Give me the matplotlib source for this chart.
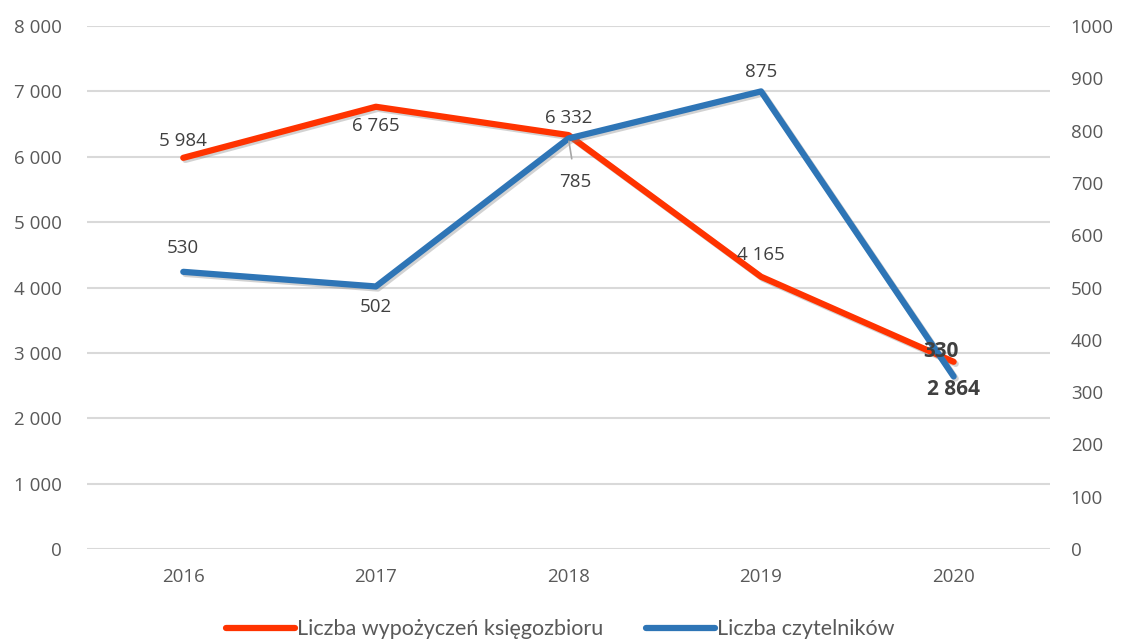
import matplotlib
matplotlib.use("Agg")
import matplotlib.pyplot as plt
import matplotlib.patheffects as pe
from matplotlib.lines import Line2D

years = ["2016", "2017", "2018", "2019", "2020"]
loans = [5984, 6765, 6332, 4165, 2864]
readers = [530, 502, 785, 875, 330]
left_ticks = [0, 1000, 2000, 3000, 4000, 5000, 6000, 7000, 8000]
right_ticks = [0, 100, 200, 300, 400, 500, 600, 700, 800, 900, 1000]

RED = "#FF3300"
BLUE = "#2E75B6"
TXT = "#595959"
LBL = "#404040"

plt.rcParams['font.family'] = ['Open Sans', 'DejaVu Sans']

fig = plt.figure(figsize=(11.21, 6.41), dpi=100)
ax = fig.add_axes([0.0776, 0.1435, 0.859, 0.8159])
ax2 = ax.twinx()

x = list(range(len(years)))
shadow = [pe.SimpleLineShadow(offset=(1.5, -1.5), shadow_color='gray', alpha=0.35), pe.Normal()]
ax.plot(x, loans, color=RED, lw=4.5, solid_capstyle='round', path_effects=shadow, zorder=3)
ax2.plot(x, readers, color=BLUE, lw=4.5, solid_capstyle='round', path_effects=shadow, zorder=3)

ax.set_xlim(-0.5, 4.5)
ax.set_ylim(0, 8000)
ax2.set_ylim(0, 1000)
ax.set_yticks(left_ticks)
ax.set_yticklabels([f"{v:,}".replace(",", " ") for v in left_ticks])
ax2.set_yticks(right_ticks)
ax2.set_yticklabels([str(v) for v in right_ticks])
ax.set_xticks(x)
ax.set_xticklabels(years)

for a in (ax, ax2):
    for s in a.spines.values():
        s.set_visible(False)
    a.tick_params(length=0, labelsize=13.5, labelcolor=TXT)
ax.tick_params(axis='y', pad=18)
ax2.tick_params(axis='y', pad=15)
ax.tick_params(axis='x', pad=14)
ax.grid(axis='y', color='#D9D9D9', lw=1.5)
ax.set_axisbelow(True)

def fmt(v):
    return f"{v:,}".replace(",", " ")

loan_off = [(0, 12), (0, -14), (0, 12), (0, 16), (0, -20)]
for i, (v, off) in enumerate(zip(loans, loan_off)):
    bold = i == len(loans) - 1
    ax.annotate(fmt(v), (i, v), xytext=off, textcoords='offset points', ha='center', va='center',
                fontsize=15 if bold else 13.5, fontweight='bold' if bold else 'normal',
                color=LBL, zorder=5)

reader_off = [(0, 17), (0, -15), (5, -31), (0, 14), (-9, 18)]
for i, (v, off) in enumerate(zip(readers, reader_off)):
    bold = i == len(readers) - 1
    kw = {}
    if i == 2:
        kw['arrowprops'] = dict(arrowstyle='-', color='#A6A6A6', lw=1.2, shrinkA=8, shrinkB=2)
    ax2.annotate(fmt(v), (i, v), xytext=off, textcoords='offset points', ha='center', va='center',
                 fontsize=15 if bold else 13.5, fontweight='bold' if bold else 'normal',
                 color=LBL, zorder=5, **kw)

handles = [Line2D([0], [0], color=RED, lw=4.5, solid_capstyle='round'),
           Line2D([0], [0], color=BLUE, lw=4.5, solid_capstyle='round')]
fig.legend(handles, ["Liczba wypożyczeń księgozbioru", "Liczba czytelników"],
           loc='center', bbox_to_anchor=(0.5, 0.018), ncol=2, frameon=False,
           labelcolor=TXT, handlelength=3.2, handletextpad=0.1, columnspacing=2.0,
           prop={'family': ['Lato', 'DejaVu Sans'], 'size': 15.5})

fig.savefig("out.png", dpi=100)
